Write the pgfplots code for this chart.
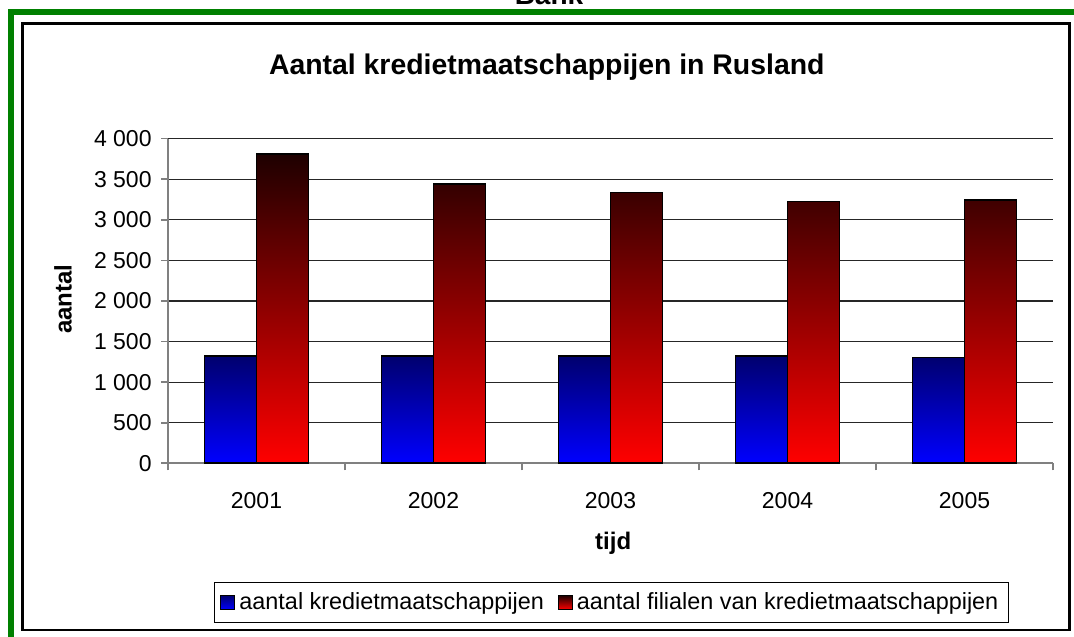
\documentclass[border=0pt]{standalone}
\usepackage{pgfplots}
\pgfplotsset{compat=1.18}
\usepackage{pgfplotstable}
\usepackage{fontspec}
\setmainfont{Liberation Sans}
\definecolor{framegreen}{RGB}{0,128,0}
\definecolor{bluetop}{RGB}{0,0,110}
\definecolor{bluemid}{RGB}{0,0,215}
\definecolor{bluebot}{RGB}{0,0,255}
\definecolor{redtop}{RGB}{30,0,0}
\definecolor{redmid}{RGB}{235,0,0}
\definecolor{redbot}{RGB}{255,0,0}
\definecolor{axisgray}{RGB}{128,128,128}

\pgfplotstableread{
idx kred fil
0 1321 3810
1 1322 3442
2 1322 3335
3 1322 3224
4 1302 3245
}\datatable

\begin{document}
\begin{tikzpicture}[x=0.5pt,y=0.5pt]
\useasboundingbox (0,0) rectangle (1074,636);
\draw[framegreen, line width=3pt] (11,-20) -- (11,624) -- (1100,624);
\draw[black, line width=1.2pt] (22.5,6) rectangle (1069.5,612.5);
\node[font=\bfseries\fontsize{14}{16}\selectfont, anchor=base] at (549,631.5) {Bank};
\coordinate (axo) at (168,172.7);
\begin{axis}[
  at={(axo)}, anchor=south west,
  scale only axis, width=442.5pt, height=162.3pt,
  xmin=-0.5, xmax=4.5, ymin=0, ymax=4000,
  axis lines*=left,
  axis line style={axisgray, line width=0.8pt},
  ybar=0pt, bar width=26pt,
  ytick={0,500,...,4000},
  ymajorgrids, grid style={black!85, line width=0.6pt},
  tick align=outside, major tick length=3.5pt,
  tick style={axisgray, line width=0.8pt},
  xtick={-0.5,0.5,1.5,2.5,3.5,4.5}, xticklabels={},
  extra x ticks={0,1,2,3,4},
  extra x tick labels={2001,2002,2003,2004,2005},
  extra x tick style={major tick length=0pt, grid=none},
  /pgf/number format/assume math mode=true,
  /pgf/number format/1000 sep={\ },
  tick label style={font=\fontsize{11.5}{13}\selectfont},
  xticklabel style={anchor=base, yshift=-22.5pt},
  yticklabel style={anchor=east, inner sep=0pt, xshift=-4.5pt},
  title={Aantal kredietmaatschappijen in Rusland},
  title style={at={(0.428,1.162)}, anchor=base, font=\bfseries\fontsize{14.2}{16}\selectfont},
  xlabel={tijd},
  xlabel style={at={(0.503,-0.2455)}, anchor=center, font=\bfseries\fontsize{12}{14}\selectfont},
  ylabel={aantal},
  ylabel style={at={(-0.1186,0.506)}, anchor=center, font=\bfseries\fontsize{12}{14}\selectfont},
  legend style={at={(0.501,-0.429)}, anchor=center, legend columns=2, draw=black, line width=0.6pt,
    font=\fontsize{11.7}{14}\selectfont, inner xsep=3pt, inner ysep=3pt,
    /tikz/every even column/.append style={column sep=5pt}},
  legend cell align=left,
  legend image code/.code={\draw[#1, line width=0.5pt, bar shift=0pt] (0pt,-3.5pt) rectangle (7pt,3.5pt);},
]
\addplot[draw=black, line width=0.8pt, top color=bluetop, middle color=bluemid, bottom color=bluebot] table[x=idx, y=kred] {\datatable};
\addplot[draw=black, line width=0.8pt, top color=redtop, middle color=redmid, bottom color=redbot] table[x=idx, y=fil] {\datatable};
\legend{aantal kredietmaatschappijen, aantal filialen van kredietmaatschappijen}
\end{axis}
\end{tikzpicture}
\end{document}
